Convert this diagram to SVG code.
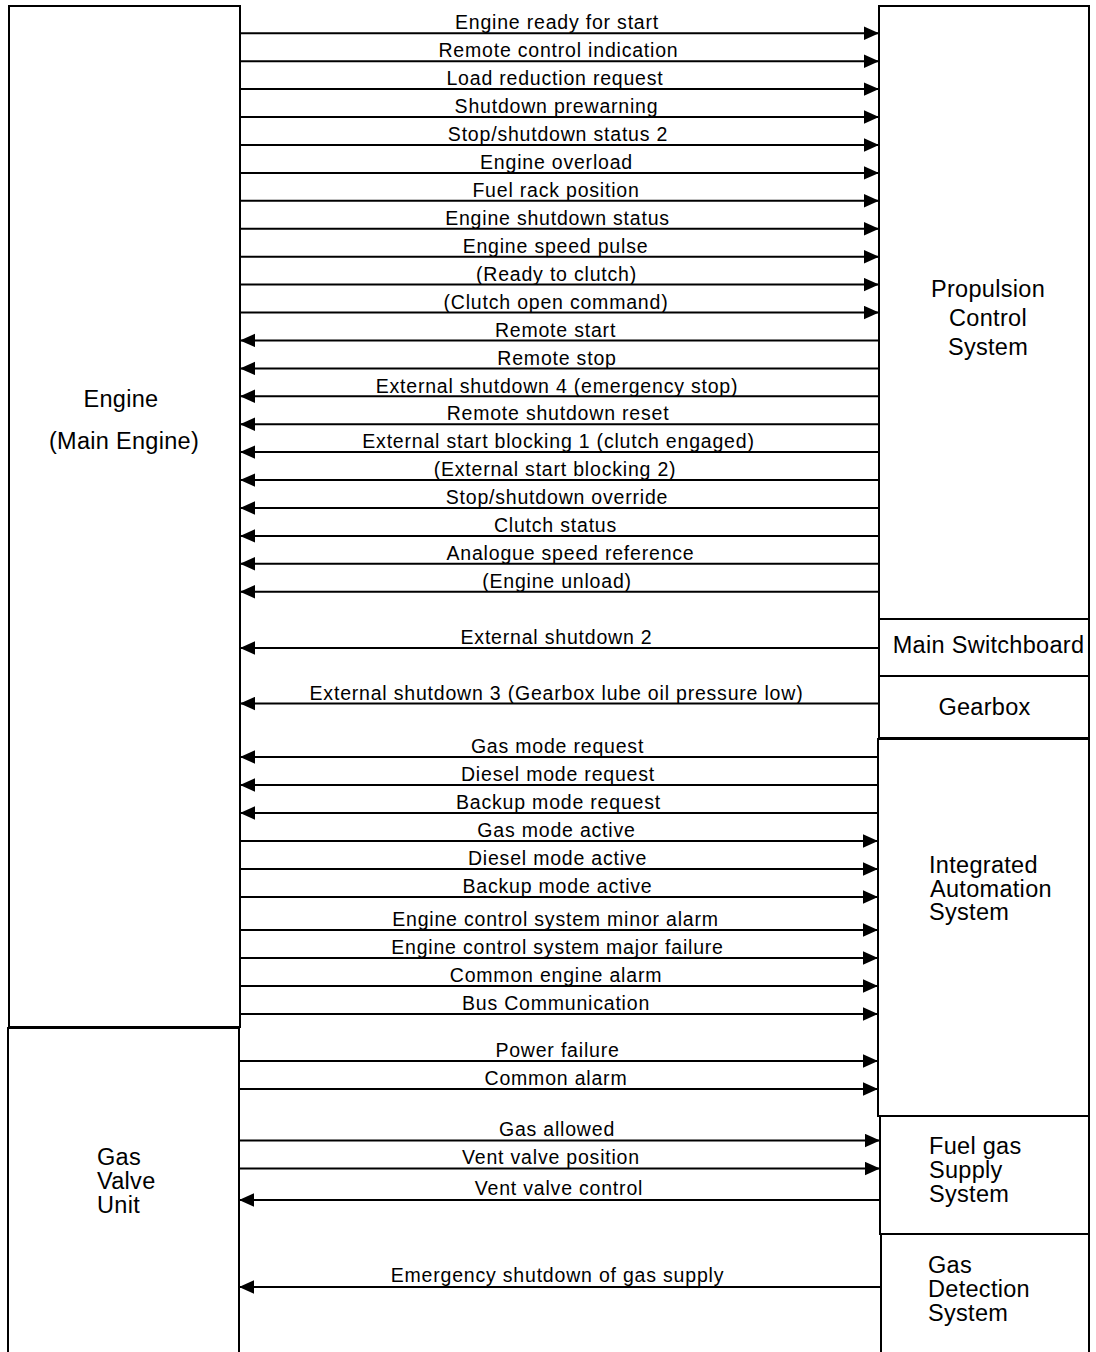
<svg xmlns="http://www.w3.org/2000/svg" width="1096" height="1352" viewBox="0 0 1096 1352">
  <style>
    .box { fill: #fff; stroke: #000; stroke-width: 2; }
    .node { font-family: "Liberation Sans", Arial, sans-serif; font-size: 23.5px; fill: #000; letter-spacing: 0.3px; }
    .mid { text-anchor: middle; }
    .sig { stroke: #000; stroke-width: 2; fill: none; marker-end: url(#head); }
    .lbl { font-family: "Liberation Sans", Arial, sans-serif; font-size: 19.5px; fill: #000; text-anchor: middle; letter-spacing: 0.8px; }
  </style>
  <defs>
    <marker id="head" markerUnits="userSpaceOnUse" markerWidth="15" markerHeight="14" refX="15" refY="7" orient="auto">
      <path d="M0,0.3 L15,7 L0,13.7 Z" fill="#000"/>
    </marker>
  </defs>
  <rect width="1096" height="1352" fill="#fff"/>

  <!-- left-hand units -->
  <g id="engine">
    <rect class="box" x="9" y="6" width="231" height="1021"/>
    <text class="node mid" x="121" y="407">Engine</text>
    <text class="node mid" x="124" y="449">(Main Engine)</text>
  </g>
  <g id="gas-valve-unit">
    <rect class="box" x="8" y="1028" width="231" height="340"/>
    <text class="node" x="97" y="1165">Gas</text>
    <text class="node" x="97" y="1189">Valve</text>
    <text class="node" x="97" y="1213">Unit</text>
  </g>

  <!-- right-hand systems -->
  <g id="propulsion-control">
    <rect class="box" x="879" y="6" width="210" height="613"/>
    <text class="node mid" x="988" y="297">Propulsion</text>
    <text class="node mid" x="988" y="326">Control</text>
    <text class="node mid" x="988" y="355">System</text>
  </g>
  <g id="main-switchboard">
    <rect class="box" x="879" y="619" width="210" height="57"/>
    <text class="node mid" x="988.5" y="653">Main Switchboard</text>
  </g>
  <g id="gearbox">
    <rect class="box" x="879" y="676" width="210" height="62"/>
    <text class="node mid" x="984.5" y="715">Gearbox</text>
  </g>
  <g id="integrated-automation">
    <rect class="box" x="878" y="739" width="211" height="377"/>
    <text class="node" x="929" y="873">Integrated</text>
    <text class="node" x="930" y="896.5">Automation</text>
    <text class="node" x="929" y="920">System</text>
  </g>
  <g id="fuel-gas-supply">
    <rect class="box" x="880" y="1116" width="209" height="118"/>
    <text class="node" x="929" y="1154">Fuel gas</text>
    <text class="node" x="929" y="1178">Supply</text>
    <text class="node" x="929" y="1202">System</text>
  </g>
  <g id="gas-detection">
    <rect class="box" x="881" y="1234" width="208" height="134"/>
    <text class="node" x="928" y="1272.5">Gas</text>
    <text class="node" x="928" y="1296.5">Detection</text>
    <text class="node" x="928" y="1320.5">System</text>
  </g>

  <!-- signal connectors -->
  <g id="connectors">
    <!-- engine to propulsion control -->
    <line class="sig" x1="240" y1="33.3" x2="879" y2="33.3"/>
    <line class="sig" x1="240" y1="61.2" x2="879" y2="61.2"/>
    <line class="sig" x1="240" y1="89.1" x2="879" y2="89.1"/>
    <line class="sig" x1="240" y1="117" x2="879" y2="117"/>
    <line class="sig" x1="240" y1="145" x2="879" y2="145"/>
    <line class="sig" x1="240" y1="172.9" x2="879" y2="172.9"/>
    <line class="sig" x1="240" y1="200.8" x2="879" y2="200.8"/>
    <line class="sig" x1="240" y1="228.7" x2="879" y2="228.7"/>
    <line class="sig" x1="240" y1="256.7" x2="879" y2="256.7"/>
    <line class="sig" x1="240" y1="284.6" x2="879" y2="284.6"/>
    <line class="sig" x1="240" y1="312.5" x2="879" y2="312.5"/>
    <!-- propulsion control to engine -->
    <line class="sig" x1="879" y1="340.4" x2="240" y2="340.4"/>
    <line class="sig" x1="879" y1="368.4" x2="240" y2="368.4"/>
    <line class="sig" x1="879" y1="396.3" x2="240" y2="396.3"/>
    <line class="sig" x1="879" y1="424.2" x2="240" y2="424.2"/>
    <line class="sig" x1="879" y1="452.1" x2="240" y2="452.1"/>
    <line class="sig" x1="879" y1="480.1" x2="240" y2="480.1"/>
    <line class="sig" x1="879" y1="508" x2="240" y2="508"/>
    <line class="sig" x1="879" y1="535.9" x2="240" y2="535.9"/>
    <line class="sig" x1="879" y1="563.8" x2="240" y2="563.8"/>
    <line class="sig" x1="879" y1="591.7" x2="240" y2="591.7"/>
    <!-- switchboard and gearbox -->
    <line class="sig" x1="879" y1="648" x2="240" y2="648"/>
    <line class="sig" x1="879" y1="703.5" x2="240" y2="703.5"/>
    <!-- automation system -->
    <line class="sig" x1="878" y1="757" x2="240" y2="757"/>
    <line class="sig" x1="878" y1="785" x2="240" y2="785"/>
    <line class="sig" x1="878" y1="813" x2="240" y2="813"/>
    <line class="sig" x1="240" y1="841" x2="878" y2="841"/>
    <line class="sig" x1="240" y1="869" x2="878" y2="869"/>
    <line class="sig" x1="240" y1="897" x2="878" y2="897"/>
    <line class="sig" x1="240" y1="930" x2="878" y2="930"/>
    <line class="sig" x1="240" y1="958" x2="878" y2="958"/>
    <line class="sig" x1="240" y1="986" x2="878" y2="986"/>
    <line class="sig" x1="240" y1="1014" x2="878" y2="1014"/>
    <!-- gas valve unit -->
    <line class="sig" x1="239" y1="1061" x2="878" y2="1061"/>
    <line class="sig" x1="239" y1="1089" x2="878" y2="1089"/>
    <line class="sig" x1="239" y1="1140.5" x2="880" y2="1140.5"/>
    <line class="sig" x1="239" y1="1168.5" x2="880" y2="1168.5"/>
    <line class="sig" x1="880" y1="1200" x2="239" y2="1200"/>
    <line class="sig" x1="881" y1="1287" x2="239" y2="1287"/>

    <text class="lbl" x="557" y="29">Engine ready for start</text>
    <text class="lbl" x="558.5" y="57">Remote control indication</text>
    <text class="lbl" x="555" y="85">Load reduction request</text>
    <text class="lbl" x="556.5" y="113">Shutdown prewarning</text>
    <text class="lbl" x="558" y="141">Stop/shutdown status 2</text>
    <text class="lbl" x="556.5" y="169">Engine overload</text>
    <text class="lbl" x="556" y="197">Fuel rack position</text>
    <text class="lbl" x="557.5" y="225">Engine shutdown status</text>
    <text class="lbl" x="555.5" y="253">Engine speed pulse</text>
    <text class="lbl" x="556.5" y="281">(Ready to clutch)</text>
    <text class="lbl" x="556" y="308.5">(Clutch open command)</text>
    <text class="lbl" x="555.5" y="336.5">Remote start</text>
    <text class="lbl" x="557" y="364.5">Remote stop</text>
    <text class="lbl" x="557" y="392.5">External shutdown 4 (emergency stop)</text>
    <text class="lbl" x="558" y="420">Remote shutdown reset</text>
    <text class="lbl" x="558.5" y="448">External start blocking 1 (clutch engaged)</text>
    <text class="lbl" x="555" y="476">(External start blocking 2)</text>
    <text class="lbl" x="557" y="504">Stop/shutdown override</text>
    <text class="lbl" x="555.5" y="532">Clutch status</text>
    <text class="lbl" x="570.5" y="560">Analogue speed reference</text>
    <text class="lbl" x="557" y="588">(Engine unload)</text>
    <text class="lbl" x="556.5" y="643.5">External shutdown 2</text>
    <text class="lbl" x="556.5" y="699.5">External shutdown 3 (Gearbox lube oil pressure low)</text>
    <text class="lbl" x="557.5" y="753">Gas mode request</text>
    <text class="lbl" x="558" y="781">Diesel mode request</text>
    <text class="lbl" x="558.5" y="809">Backup mode request</text>
    <text class="lbl" x="556.5" y="837">Gas mode active</text>
    <text class="lbl" x="557.5" y="865">Diesel mode active</text>
    <text class="lbl" x="557.5" y="893">Backup mode active</text>
    <text class="lbl" x="555.5" y="925.5">Engine control system minor alarm</text>
    <text class="lbl" x="557.5" y="953.5">Engine control system major failure</text>
    <text class="lbl" x="556" y="981.5">Common engine alarm</text>
    <text class="lbl" x="556" y="1009.5">Bus Communication</text>
    <text class="lbl" x="557.5" y="1056.5">Power failure</text>
    <text class="lbl" x="556" y="1084.5">Common alarm</text>
    <text class="lbl" x="557" y="1135.5">Gas allowed</text>
    <text class="lbl" x="551" y="1163.5">Vent valve position</text>
    <text class="lbl" x="559" y="1194.5">Vent valve control</text>
    <text class="lbl" x="557.5" y="1281.5">Emergency shutdown of gas supply</text>
  </g>
</svg>
